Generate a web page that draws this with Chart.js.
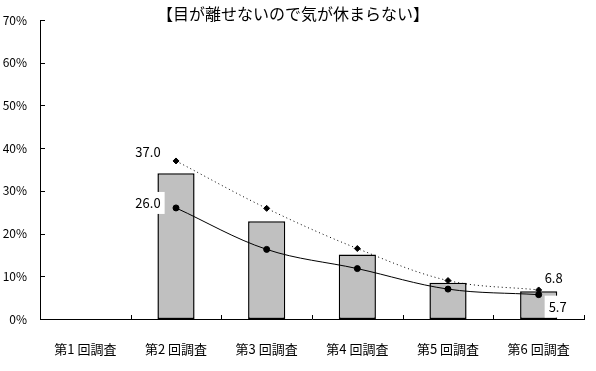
<!DOCTYPE html>
<html>
<head>
<meta charset="utf-8">
<script src="https://cdn.jsdelivr.net/npm/chart.js@4.4.0/dist/chart.umd.min.js"></script>
<style>
  html, body { margin: 0; padding: 0; background: #fff; }
  #wrap { width: 596px; height: 371px; }
</style>
</head>
<body>
<div id="wrap"><canvas id="myChart" width="596" height="371"></canvas></div>
<script>
// data
const chartTitle = '【目が離せないので気が休まらない】';
const labels = ['第1 回調査', '第2 回調査', '第3 回調査', '第4 回調査', '第5 回調査', '第6 回調査'];
const barValues = [null, 34.1, 22.9, 15.1, 8.5, 6.5];
const dottedValues = [null, 37.0, 25.9, 16.5, 9.0, 6.8];
const solidValues = [null, 26.0, 16.3, 11.8, 7.0, 5.7];
const yTicks = [0, 10, 20, 30, 40, 50, 60, 70];

const FONT = "'Noto Sans CJK JP', 'Noto Sans', sans-serif";
Chart.defaults.font.family = FONT;
Chart.defaults.color = '#000';

// title, inside ticks and the value labels
const extras = {
    id: 'extras',
    afterDraw(chart) {
        const ctx = chart.ctx;
        const area = chart.chartArea;
        ctx.save();
        ctx.strokeStyle = '#000';
        ctx.lineWidth = 1;
        ctx.beginPath();
        const n = labels.length;
        for (let i = 1; i <= n; i++) {
            const x = Math.round(area.left + i * (area.right - area.left) / n) + 0.5;
            ctx.moveTo(x, area.bottom);
            ctx.lineTo(x, area.bottom - 4);
        }
        const ys = chart.scales.y;
        for (let i = 1; i < yTicks.length; i++) {
            const y = Math.round(ys.getPixelForValue(yTicks[i])) + 0.5;
            ctx.moveTo(area.left, y);
            ctx.lineTo(area.left + 5, y);
        }
        ctx.stroke();

        ctx.fillStyle = '#000';
        ctx.font = '16px ' + FONT;
        ctx.textAlign = 'center';
        ctx.textBaseline = 'middle';
        ctx.fillText(chartTitle, 293, 14);

        // value labels: [dataset, index, dx, dy, white box]
        const spots = [[1, 1, -28, -9, false], [1, 5, 15, -12, false], [2, 1, -28, -5, true], [2, 5, 19, 12, true]];
        ctx.font = '13px ' + FONT;
        spots.forEach(s => {
            const pt = chart.getDatasetMeta(s[0]).data[s[1]];
            const v = chart.data.datasets[s[0]].data[s[1]].toFixed(1);
            const x = pt.x + s[2], y = pt.y + s[3];
            if (s[4]) {
                const w = ctx.measureText(v).width + 8;
                ctx.fillStyle = '#fff';
                ctx.fillRect(x - w / 2, y - 11, w, 22);
                ctx.fillStyle = '#000';
            }
            ctx.fillText(v, x, y);
        });
        ctx.restore();
    }
};

const data = {
    labels: labels,
    datasets: [{
            type: 'bar',
            label: 'bar',
            data: barValues,
            backgroundColor: '#c0c0c0',
            borderColor: '#000',
            borderWidth: 1.5,
            borderSkipped: false,
            barPercentage: 0.41,
            categoryPercentage: 1,
            order: 3
        }, {
            type: 'line',
            label: 'dotted',
            data: dottedValues,
            borderColor: '#000',
            borderWidth: 1,
            borderDash: [1, 3],
            tension: 0.35,
            pointStyle: 'rectRot',
            pointRadius: 3,
            pointBackgroundColor: '#000',
            pointBorderColor: '#000',
            order: 2
        }, {
            type: 'line',
            label: 'solid',
            data: solidValues,
            borderColor: '#000',
            borderWidth: 1,
            tension: 0.35,
            pointStyle: 'circle',
            pointRadius: 3,
            pointBackgroundColor: '#000',
            pointBorderColor: '#000',
            order: 1
        }]
};

const config = {
    data: data,
    options: {
        responsive: false,
        animation: false,
        layout: { padding: { left: 0, right: 12, top: 20, bottom: 0 } },
        plugins: {
            legend: { display: false },
            tooltip: { enabled: false }
        },
        scales: {
            x: {
                offset: true,
                grid: { display: false },
                border: { color: '#000', width: 1 },
                ticks: { font: { size: 13 }, color: '#000', padding: 14, maxRotation: 0 },
                afterFit: s => { s.height = 52; }
            },
            y: {
                min: 0,
                max: 70,
                grid: { display: false },
                border: { color: '#000', width: 1 },
                afterBuildTicks: s => { s.ticks = yTicks.map(v => ({ value: v })); },
                ticks: { font: { size: 12 }, color: '#000', padding: 5, callback: v => v + '%' },
                afterFit: s => { s.width = 40; }
            }
        }
    },
    plugins: [extras]
};

const ctx = document.getElementById('myChart').getContext('2d');
new Chart(ctx, config);
</script>
</body>
</html>
